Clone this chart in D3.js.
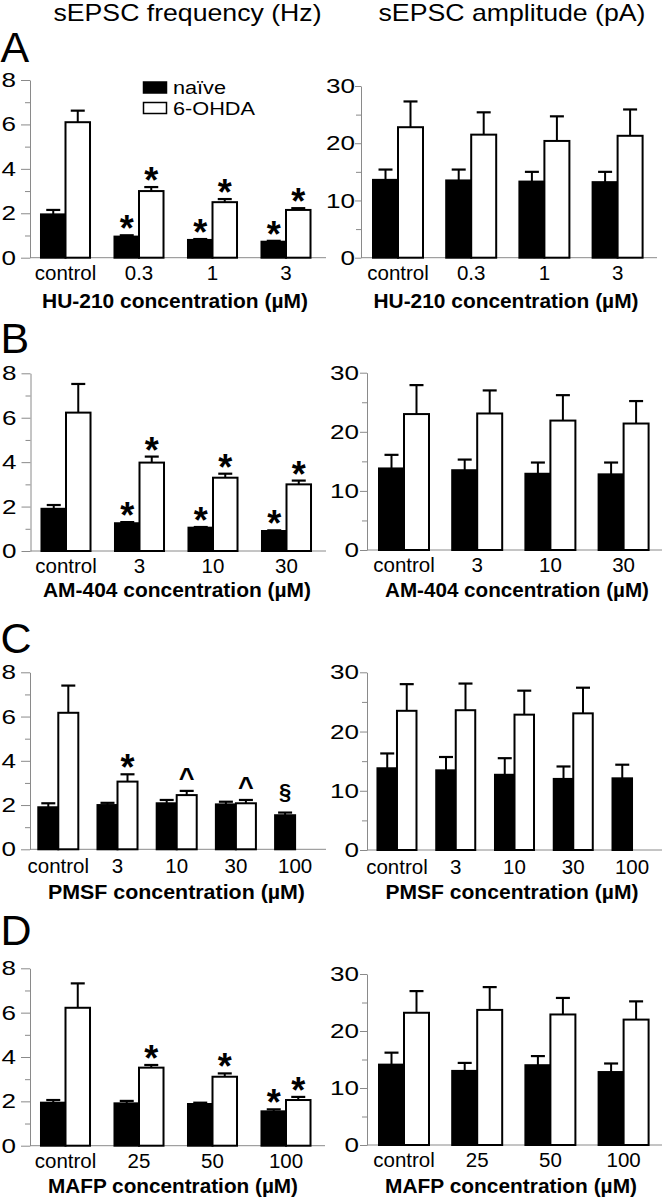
<!DOCTYPE html>
<html><head><meta charset="utf-8">
<script src="https://cdn.jsdelivr.net/npm/d3@7"></script>
<style>
body{margin:0;background:#fff}
text{font-family:"Liberation Sans",Arial,Helvetica,sans-serif}
</style>
</head><body>
<svg id="chart" width="664" height="1200"></svg>
<script>
// ---------- DATA ----------
const seriesNames = ["naïve", "6-OHDA"];
const yTicksFreq = [0, 2, 4, 6, 8];
const yMinorFreq = [1, 3, 5, 7];
const yTicksAmp = [0, 10, 20, 30];
const yMinorAmp = [5, 15, 25];

// A: HU-210
const catsA = ["control", "0.3", "1", "3"];
const freqA_naive = [1.95, 0.95, 0.80, 0.72];
const freqA_naive_err = [0.20, 0.06, 0.04, 0.04];
const freqA_ohda = [6.10, 3.00, 2.50, 2.15];
const freqA_ohda_err = [0.52, 0.18, 0.14, 0.08];
const ampA_naive = [13.6, 13.5, 13.3, 13.2];
const ampA_naive_err = [1.8, 1.9, 1.7, 1.8];
const ampA_ohda = [22.8, 21.5, 20.4, 21.3];
const ampA_ohda_err = [4.5, 3.9, 4.3, 4.6];
const marksA_naive = ["", "*", "*", "*"];
const marksA_ohda = ["", "*", "*", "*"];

// B: AM-404
const catsB = ["control", "3", "10", "30"];
const freqB_naive = [1.90, 1.25, 1.05, 0.90];
const freqB_naive_err = [0.17, 0.05, 0.03, 0.03];
const freqB_ohda = [6.23, 3.98, 3.30, 3.00];
const freqB_ohda_err = [1.29, 0.27, 0.18, 0.17];
const ampB_naive = [13.8, 13.5, 12.9, 12.8];
const ampB_naive_err = [2.3, 1.8, 1.9, 2.0];
const ampB_ohda = [23.0, 23.1, 21.9, 21.4];
const ampB_ohda_err = [4.9, 3.9, 4.3, 3.8];
const marksB_naive = ["", "*", "*", "*"];
const marksB_ohda = ["", "*", "*", "*"];

// C: PMSF
const catsC = ["control", "3", "10", "30", "100"];
const freqC_naive = [1.90, 2.00, 2.08, 2.03, 1.54];
const freqC_naive_err = [0.18, 0.10, 0.15, 0.12, 0.12];
const freqC_ohda = [6.17, 3.06, 2.45, 2.08, null];
const freqC_ohda_err = [1.23, 0.33, 0.19, 0.15, null];
const ampC_naive = [13.8, 13.45, 12.7, 12.0, 12.1];
const ampC_naive_err = [2.5, 2.25, 2.8, 2.1, 2.3];
const ampC_ohda = [23.5, 23.6, 22.85, 23.07, null];
const ampC_ohda_err = [4.5, 4.5, 4.05, 4.33, null];
const marksC_naive = ["", "", "", "", "§"];
const marksC_ohda = ["", "*", "^", "^", ""];

// D: MAFP
const catsD = ["control", "25", "50", "100"];
const freqD_naive = [1.94, 1.91, 1.88, 1.55];
const freqD_naive_err = [0.12, 0.11, 0.06, 0.09];
const freqD_ohda = [6.22, 3.52, 3.11, 2.06];
const freqD_ohda_err = [1.10, 0.12, 0.15, 0.14];
const ampD_naive = [14.1, 13.0, 14.0, 12.8];
const ampD_naive_err = [2.1, 1.4, 1.6, 1.5];
const ampD_ohda = [23.2, 23.7, 22.9, 22.0];
const ampD_ohda_err = [3.8, 4.0, 2.9, 3.2];
const marksD_naive = ["", "", "", "*"];
const marksD_ohda = ["", "*", "*", "*"];

const headers = ["sEPSC frequency (Hz)", "sEPSC amplitude (pA)"];
const panelLetters = ["A", "B", "C", "D"];
const xTitles = ["HU-210 concentration (µM)", "AM-404 concentration (µM)",
                 "PMSF concentration (µM)", "MAFP concentration (µM)"];

// ---------- LAYOUT ----------
const AXIS = "#8a8a8a";
const FONT = '"Liberation Sans",Arial,sans-serif';
const YLAB_SX = 1.27;
const svg = d3.select("#chart");

const panels = [
  {cats: catsA, v: [freqA_naive, freqA_ohda], e: [freqA_naive_err, freqA_ohda_err], m: [marksA_naive, marksA_ohda],
   max: 8, major: yTicksFreq, minor: yMinorFreq, x0: 28.75, x1: 322.75, pad: 0.333, ax: 30, axEnd: 326, y0: 257.7, yTop: 80,
   tick: 9, labOff: 14, labPad: 7.5, title: xTitles[0], tcx: 175, tby: 308, tw: 266},
  {cats: catsA, v: [ampA_naive, ampA_ohda], e: [ampA_naive_err, ampA_ohda_err], m: null,
   max: 30, major: yTicksAmp, minor: yMinorAmp, x0: 361.4, x1: 654.2, pad: 0.317, ax: 361, axEnd: 657, y0: 257.7, yTop: 86,
   tick: 6, labOff: 6, labPad: 7.5, title: xTitles[0], tcx: 506, tby: 308, tw: 265},
  {cats: catsB, v: [freqB_naive, freqB_ohda], e: [freqB_naive_err, freqB_ohda_err], m: [marksB_naive, marksB_ohda],
   max: 8, major: yTicksFreq, minor: yMinorFreq, x0: 29.25, x1: 323.25, pad: 0.333, ax: 30.5, axEnd: 326, y0: 551, yTop: 373.3,
   tick: 9, labOff: 14, labPad: 7.5, title: xTitles[1], tcx: 177, tby: 597, tw: 268},
  {cats: catsB, v: [ampB_naive, ampB_ohda], e: [ampB_naive_err, ampB_ohda_err], m: null,
   max: 30, major: yTicksAmp, minor: yMinorAmp, x0: 367.4, x1: 660.2, pad: 0.317, ax: 367, axEnd: 662, y0: 550, yTop: 372.7,
   tick: 7, labOff: 8, labPad: 7.5, title: xTitles[1], tcx: 517, tby: 597, tw: 264},
  {cats: catsC, v: [freqC_naive, freqC_ohda], e: [freqC_naive_err, freqC_ohda_err], m: [marksC_naive, marksC_ohda],
   max: 8, major: yTicksFreq, minor: yMinorFreq, x0: 28.7, x1: 324.7, pad: 0.324, ax: 30, axEnd: 326, y0: 849.3, yTop: 672.3,
   tick: 9, labOff: 14, labPad: 9.5, title: xTitles[2], tcx: 176.5, tby: 899, tw: 257},
  {cats: catsC, v: [ampC_naive, ampC_ohda], e: [ampC_naive_err, ampC_ohda_err], m: null,
   max: 30, major: yTicksAmp, minor: yMinorAmp, x0: 367.6, x1: 661.4, pad: 0.336, ax: 367, axEnd: 662, y0: 850, yTop: 672.3,
   tick: 7, labOff: 8, labPad: 9, title: xTitles[2], tcx: 512, tby: 899, tw: 253},
  {cats: catsD, v: [freqD_naive, freqD_ohda], e: [freqD_naive_err, freqD_ohda_err], m: [marksD_naive, marksD_ohda],
   max: 8, major: yTicksFreq, minor: yMinorFreq, x0: 28.75, x1: 322.75, pad: 0.333, ax: 30, axEnd: 325, y0: 1145.7, yTop: 968.3,
   tick: 9, labOff: 14, labPad: 7.5, title: xTitles[3], tcx: 173, tby: 1192.5, tw: 250},
  {cats: catsD, v: [ampD_naive, ampD_ohda], e: [ampD_naive_err, ampD_ohda_err], m: null,
   max: 30, major: yTicksAmp, minor: yMinorAmp, x0: 367.4, x1: 660.2, pad: 0.317, ax: 367, axEnd: 662, y0: 1145, yTop: 974,
   tick: 7, labOff: 8, labPad: 7.5, title: xTitles[3], tcx: 511, tby: 1192.5, tw: 252}
];

const markStyle = {
  "*": {size: 36, gap: 9, ink: 15},
  "^": {size: 27, gap: 12, ink: 8.5},
  "§": {size: 22, gap: 9, ink: -4.4}
};

function drawPanel(p) {
  const g = svg.append("g");
  const x = d3.scaleBand().domain(p.cats).range([p.x0, p.x1]).paddingInner(p.pad).paddingOuter(p.pad / 2);
  const xs = d3.scaleBand().domain([0, 1]).range([0, x.bandwidth()]);
  const y = d3.scaleLinear().domain([0, p.max]).range([p.y0, p.yTop]);

  // y axis (major)
  const ya = g.append("g").attr("transform", `translate(${p.ax},0)`)
    .call(d3.axisLeft(y).tickValues(p.major).tickSize(p.tick).tickSizeOuter(0).tickFormat(d3.format("d")));
  ya.select(".domain").attr("stroke", AXIS);
  ya.selectAll(".tick line").attr("stroke", AXIS);
  ya.selectAll(".tick text")
    .attr("x", -p.labOff / YLAB_SX)
    .attr("transform", `scale(${YLAB_SX},1)`)
    .attr("fill", "#000").style("font-size", "20.5px").style("font-family", FONT);
  // y axis (minor)
  const ym = g.append("g").attr("transform", `translate(${p.ax},0)`)
    .call(d3.axisLeft(y).tickValues(p.minor).tickSize(5).tickFormat(""));
  ym.select(".domain").remove();
  ym.selectAll(".tick line").attr("stroke", AXIS);

  // x axis baseline
  g.append("line").attr("x1", p.ax).attr("x2", p.axEnd).attr("y1", y(0)).attr("y2", y(0))
    .attr("stroke", AXIS).attr("stroke-width", 1);
  // x tick labels
  const xa = g.append("g").attr("transform", `translate(0,${y(0)})`)
    .call(d3.axisBottom(x).tickSize(0).tickPadding(p.labPad));
  xa.select(".domain").remove();
  xa.selectAll(".tick text").attr("fill", "#000").style("font-size", "20.5px").style("font-family", FONT);

  // bars + error bars
  [0, 1].forEach(s => {
    const recs = p.cats.map((c, i) => ({c, i, v: p.v[s][i], e: p.e[s][i], m: p.m ? p.m[s][i] : ""}))
      .filter(d => d.v !== null);
    const cx = d => x(d.c) + xs(s) + xs.bandwidth() / 2;
    g.selectAll(null).data(recs).enter().append("line")
      .attr("x1", cx).attr("x2", cx).attr("y1", d => y(d.v)).attr("y2", d => y(d.v + d.e))
      .attr("stroke", "#000").attr("stroke-width", 2);
    g.selectAll(null).data(recs).enter().append("line")
      .attr("x1", d => cx(d) - 7).attr("x2", d => cx(d) + 7).attr("y1", d => y(d.v + d.e)).attr("y2", d => y(d.v + d.e))
      .attr("stroke", "#000").attr("stroke-width", 2.2);
    g.selectAll(null).data(recs).enter().append("rect")
      .attr("x", d => x(d.c) + xs(s)).attr("width", xs.bandwidth())
      .attr("y", d => y(d.v)).attr("height", d => y(0) - y(d.v))
      .attr("fill", s === 0 ? "#000" : "#fff").attr("stroke", "#000").attr("stroke-width", 2);
    g.selectAll(null).data(recs.filter(d => d.m)).enter().append("text")
      .attr("x", cx)
      .attr("y", d => y(d.v + d.e) - markStyle[d.m].gap + markStyle[d.m].ink)
      .attr("text-anchor", "middle").attr("font-weight", "bold")
      .style("font-size", d => markStyle[d.m].size + "px")
      .text(d => d.m);
  });

  // x axis title
  g.append("text").attr("x", p.tcx).attr("y", p.tby).attr("text-anchor", "middle")
    .attr("font-weight", "bold").style("font-size", "19.5px")
    .attr("textLength", p.tw).attr("lengthAdjust", "spacingAndGlyphs")
    .text(p.title);
}

panels.forEach(drawPanel);

// headers
[[187.5, 268], [512, 267]].forEach((h, i) => {
  svg.append("text").attr("x", h[0]).attr("y", 21).attr("text-anchor", "middle")
    .style("font-size", "24px").attr("textLength", h[1]).attr("lengthAdjust", "spacingAndGlyphs")
    .text(headers[i]);
});

// panel letters
const letterY = [62, 353, 653, 945];
panelLetters.forEach((L, i) => {
  svg.append("text").attr("x", 0.5).attr("y", letterY[i]).style("font-size", "43px").text(L);
});

// legend
const legW = [53, 82];
const leg = svg.append("g");
seriesNames.forEach((n, i) => {
  leg.append("rect").attr("x", 143.5).attr("y", 82 + i * 20.5).attr("width", 23).attr("height", 11)
    .attr("fill", i === 0 ? "#000" : "#fff").attr("stroke", "#000").attr("stroke-width", 1.5);
  leg.append("text").attr("x", 173).attr("y", 94 + i * 20.8).style("font-size", "17.5px")
    .attr("textLength", legW[i]).attr("lengthAdjust", "spacingAndGlyphs").text(n);
});
</script>
</body></html>
